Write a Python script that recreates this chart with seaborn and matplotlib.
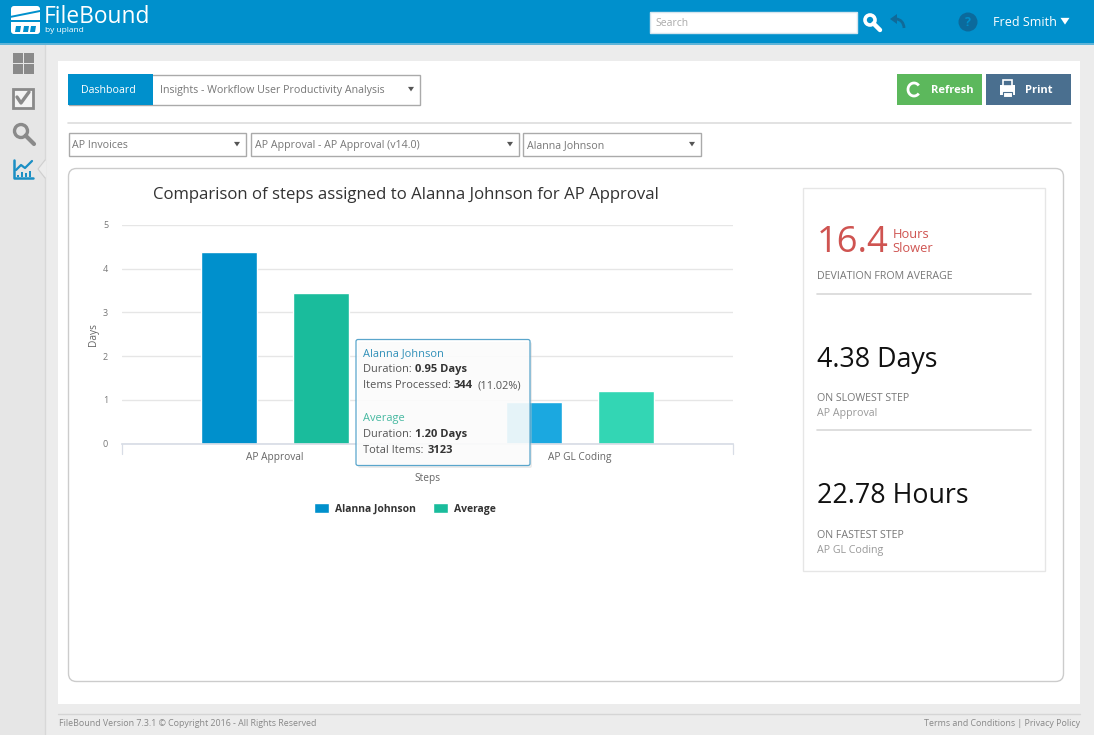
import matplotlib
matplotlib.use('Agg')
import matplotlib.pyplot as plt
from matplotlib.patches import Rectangle, FancyBboxPatch, Circle, Polygon, Arc
import pandas as pd
import seaborn as sns

steps = ['AP Approval', 'AP GL Coding']
alanna_days = [4.38, 0.95]
average_days = [3.45, 1.20]
series_names = ['Alanna Johnson', 'Average']
y_ticks = [0, 1, 2, 3, 4, 5]

BLUE = '#0090cc'
TEAL = '#1abc9c'
W, H = 1094, 735

sns.set_theme(style='white')
plt.rcParams['font.family'] = ['Open Sans', 'DejaVu Sans']

fig = plt.figure(figsize=(W / 100, H / 100), dpi=100, facecolor='#ececec')


def pixel_axes(z):
    a = fig.add_axes([0, 0, 1, 1], zorder=z)
    a.set_xlim(0, W)
    a.set_ylim(H, 0)
    a.axis('off')
    a.patch.set_alpha(0)
    return a


ui = pixel_axes(0)
top = pixel_axes(5)


def box(a, x0, y0, x1, y1, fc='white', ec='none', lw=1.0, z=2, alpha=None):
    a.add_patch(Rectangle((x0, y0), x1 - x0, y1 - y0, fc=fc, ec=ec, lw=lw, zorder=z, alpha=alpha))


def txt(a, x, y, s, size=8, color='#777777', ha='left', weight='normal', z=4, **kw):
    # open sans sits a bit high with va=center
    a.text(x, y + 2.2, s, fontsize=size, color=color, ha=ha, va='center', fontweight=weight, zorder=z, **kw)


def arrow_down(a, x, y, color='#555555', s=3):
    a.add_patch(Polygon([(x - s, y - s * 0.7), (x + s, y - s * 0.7), (x, y + s * 0.8)], fc=color, ec='none', zorder=4))


def magnifier(a, x, y, r, color, lw):
    a.add_patch(Circle((x, y), r, fc='none', ec=color, lw=lw, zorder=4))
    a.plot([x + r * 0.7, x + r * 2.0], [y + r * 0.7, y + r * 2.0], color=color, lw=lw + 0.6,
           solid_capstyle='round', zorder=4)


# page frame
box(ui, 0, 44, 45, H, fc='#e6e6e6', z=1)
ui.plot([45, 45], [44, H], color='#d8d8d8', lw=1, zorder=1)
box(ui, 0, 0, W, 43.5, fc=BLUE, z=2)
box(ui, 0, 43, W, 44.5, fc='#5fb4d8', z=2)
box(ui, 58, 61, 1080, 704, z=1)
ui.add_patch(Polygon([(46, 160), (38, 169), (46, 178)], fc='#ececec', ec='none', zorder=2))
ui.plot([45, 38, 45], [160, 169, 178], color='#cfcfcf', lw=0.8, zorder=2)

# header
ui.add_patch(FancyBboxPatch((11, 6), 29, 28, boxstyle='round,pad=0,rounding_size=3', fc='white', ec='none', zorder=3))
ui.plot([10, 40], [17, 11], color=BLUE, lw=1.4, zorder=4)
box(ui, 10, 20, 41, 22, fc=BLUE, z=4)
for lx in [16, 24, 31]:
    ui.add_patch(Polygon([(lx, 26), (lx + 5, 26), (lx + 4, 32), (lx - 1, 32)], fc=BLUE, ec='none', zorder=4))
txt(ui, 44, 14.5, 'FileBound', size=16.4, color='white')
txt(ui, 45, 28.5, 'by upland', size=6, color='white')
box(ui, 650, 12, 857, 33, fc='white', ec='#d5e5ee')
txt(ui, 655, 21.5, 'Search', size=7.5, color='#aaaaaa')
magnifier(ui, 870, 20, 5, 'white', 2.6)
ui.add_patch(Polygon([(890, 19), (897, 14), (897, 24)], fc='#106a99', ec='none', zorder=4))
ui.add_patch(Arc((896, 28), 16, 18, theta1=270, theta2=360, ec='#106a99', lw=2, zorder=4))
ui.add_patch(Circle((968, 22), 9.5, fc='#0b6a9c', ec='none', zorder=4))
txt(ui, 968, 20, '?', size=9, color=BLUE, ha='center', weight='bold', z=5)
txt(ui, 993, 20.5, 'Fred Smith', size=9, color='white')
arrow_down(ui, 1065, 21, color='white', s=4.5)

# sidebar icons
for ix, iy in [(13, 53), (24, 53), (13, 64), (24, 64)]:
    box(ui, ix, iy, ix + 9.5, iy + 9.5, fc='#8a8a8a')
ui.add_patch(Rectangle((12.5, 88.5), 20, 19, fc='#f4f4f4', ec='#8a8a8a', lw=2, zorder=3))
ui.plot([17, 21, 29], [97, 103, 92], color='#8a8a8a', lw=2.4, zorder=4)
magnifier(ui, 21, 131, 6.5, '#8a8a8a', 2.4)
ui.plot([14, 14, 33], [160, 178, 178], color='#1b8fc4', lw=1.8, zorder=4)
ui.plot([16, 21, 25, 32], [170, 165, 168, 161], color='#1b8fc4', lw=1.6, zorder=4)
for bx, bt in [(17, 175), (21, 172), (25, 173), (29, 171)]:
    box(ui, bx, bt, bx + 2.4, 176.5, fc='#1b8fc4', z=4)

# toolbar
box(ui, 68.5, 74.5, 420, 104.5, ec='#aaaaaa')
box(ui, 68, 74, 152.5, 105, fc=BLUE, z=3)
txt(ui, 108.5, 88.5, 'Dashboard', size=7.7, color='white', ha='center')
txt(ui, 160, 88.5, 'Insights - Workflow User Productivity Analysis', size=7.7)
arrow_down(ui, 411, 89)
box(ui, 897, 74, 982, 104.5, fc='#5cb85c')
ui.add_patch(Arc((914, 89.5), 12, 13, theta1=40, theta2=320, ec='white', lw=2, zorder=4))
txt(ui, 931, 88, 'Refresh', size=8, color='white', weight='bold')
box(ui, 986, 74, 1071, 104.5, fc='#4a6f8f')
box(ui, 1000, 85, 1015, 95, fc='white', z=4)
box(ui, 1003, 80, 1012, 86, fc='#4a6f8f', ec='white', lw=1.2, z=4)
box(ui, 1003, 92, 1012, 97, fc='white', ec='#4a6f8f', lw=0.8, z=5)
txt(ui, 1025, 88, 'Print', size=8, color='white', weight='bold')
ui.plot([68, 1071], [123, 123], color='#dddddd', lw=1.2, zorder=2)

# dropdowns
for x0, x1, label in [(68.5, 246, 'AP Invoices'), (251, 519, 'AP Approval - AP Approval (v14.0)'),
                      (523, 701, 'Alanna Johnson')]:
    box(ui, x0, 133, x1, 156, ec='#aaaaaa')
    txt(ui, x0 + 4, 143, label, size=7.7)
    arrow_down(ui, x1 - 9, 144)

# chart container and side card
ui.add_patch(FancyBboxPatch((68.5, 168.5), 995, 513, boxstyle='round,pad=0,rounding_size=8',
                            fc='white', ec='#cccccc', lw=1, zorder=2))
box(ui, 802.5, 187.5, 1045, 571, ec='#e6e6e6', z=3)
txt(ui, 817, 241, '16.4', size=26.2, color='#cf5451')
txt(ui, 893, 232.5, 'Hours', size=9.3, color='#cf5451')
txt(ui, 892, 246.5, 'Slower', size=9.3, color='#cf5451')
txt(ui, 817, 274.5, 'DEVIATION FROM AVERAGE', size=7.65)
ui.plot([817, 1031], [293.5, 293.5], color='#d8d8d8', lw=1.2, zorder=4)
txt(ui, 817, 358, '4.38 Days', size=19.3, color='#111111')
txt(ui, 817, 396, 'ON SLOWEST STEP', size=7.7)
txt(ui, 817, 411.5, 'AP Approval', size=7.7, color='#999999')
ui.plot([817, 1031], [430, 430], color='#d8d8d8', lw=1.2, zorder=4)
txt(ui, 817, 494, '22.78 Hours', size=19.3, color='#111111')
txt(ui, 817, 533.5, 'ON FASTEST STEP', size=7.7)
txt(ui, 817, 548.5, 'AP GL Coding', size=7.7, color='#999999')

# footer
ui.plot([58, 1080], [714, 714], color='#d5d5d5', lw=1, zorder=2)
txt(ui, 59, 721, 'FileBound Version 7.3.1 © Copyright 2016 - All Rights Reserved', size=6.4, color='#888888')
txt(ui, 1080, 721, 'Terms and Conditions | Privacy Policy', size=6.4, color='#888888', ha='right')

# chart
df = pd.DataFrame({
    'Steps': steps * 2,
    'Days': alanna_days + average_days,
    'Series': [series_names[0]] * len(steps) + [series_names[1]] * len(steps),
})
ax = fig.add_axes([122 / W, 1 - 443.5 / H, (733 - 122) / W, (443.5 - 225) / H], zorder=3)
ax.patch.set_alpha(0)
sns.barplot(data=df, x='Steps', y='Days', hue='Series', order=steps, hue_order=series_names,
            palette=[BLUE, TEAL], width=0.6, gap=0.39, saturation=1, ax=ax, legend=False, errorbar=None)
# the second group is the hovered one, drawn brighter
bars = [p for c in ax.containers for p in c]
bars[1].set_facecolor('#1ba8e0')
bars[3].set_facecolor('#33d6b4')

ax.set_xlim(-0.5, 1.5)
ax.set_ylim(0, 5)
ax.set_yticks(y_ticks)
ax.grid(axis='y', color='#e6e6e6', lw=1)
ax.set_axisbelow(True)
sns.despine(ax=ax, left=True, top=True, right=True)
ax.spines['bottom'].set_color('#d8dde6')
ax.tick_params(axis='y', length=0, labelsize=6.5, labelcolor='#777777', pad=10)
ax.tick_params(axis='x', length=0, labelsize=7.3, labelcolor='#666666', pad=6)
for pos in [-0.5, 0.5, 1.5]:
    ax.plot([pos, pos], [0, -0.23], color='#d8dde6', lw=0.9, clip_on=False)
ax.set_xlabel('Steps', fontsize=7.3, color='#666666', labelpad=7)
ax.set_ylabel('Days', fontsize=7.3, color='#666666', labelpad=3)
fig.text(405.5 / W, 1 - 195 / H, 'Comparison of steps assigned to Alanna Johnson for AP Approval',
         ha='center', va='center', fontsize=12.05, color='#333333', zorder=6)

handles = [Rectangle((0, 0), 1, 1, fc=BLUE), Rectangle((0, 0), 1, 1, fc=TEAL)]
leg = ax.legend(handles, series_names, loc='center', bbox_to_anchor=(405 / W, 1 - 509 / H),
                bbox_transform=fig.transFigure, ncol=2, frameon=False, fontsize=7.5,
                handlelength=1.45, handleheight=1.1, columnspacing=1.6, handletextpad=0.6)
for t in leg.get_texts():
    t.set_fontweight('bold')
    t.set_color('#333333')

# tooltip
top.add_patch(FancyBboxPatch((358, 342), 174, 126, boxstyle='round,pad=0,rounding_size=2',
                             fc='#c8c8c8', ec='none', alpha=0.35, zorder=1))
top.add_patch(FancyBboxPatch((356, 339.5), 174, 126, boxstyle='round,pad=0,rounding_size=2',
                             fc='white', ec='none', alpha=0.85, zorder=2))
top.add_patch(FancyBboxPatch((356, 339.5), 174, 126, boxstyle='round,pad=0,rounding_size=2',
                             fc='none', ec='#5aa6cc', lw=0.9, zorder=3))
tip = dict(size=7.9, color='#555555')
txt(top, 363, 351, 'Alanna Johnson', size=7.9, color='#2f8fb8')
txt(top, 363, 367.5, 'Duration: ', **tip)
txt(top, 415, 367.5, '0.95 Days', size=8, color='#333333', weight='bold')
txt(top, 363, 383.5, 'Items Processed: ', **tip)
txt(top, 454, 383.5, '344', size=8, color='#333333', weight='bold')
txt(top, 478, 383.5, '(11.02%)', **tip)
txt(top, 363, 416, 'Average', size=7.9, color='#45b8a0')
txt(top, 363, 432, 'Duration: ', **tip)
txt(top, 415, 432, '1.20 Days', size=8, color='#333333', weight='bold')
txt(top, 363, 448, 'Total Items: ', **tip)
txt(top, 428, 448, '3123', size=8, color='#333333', weight='bold')

fig.savefig('out.png', dpi=100, facecolor=fig.get_facecolor())
